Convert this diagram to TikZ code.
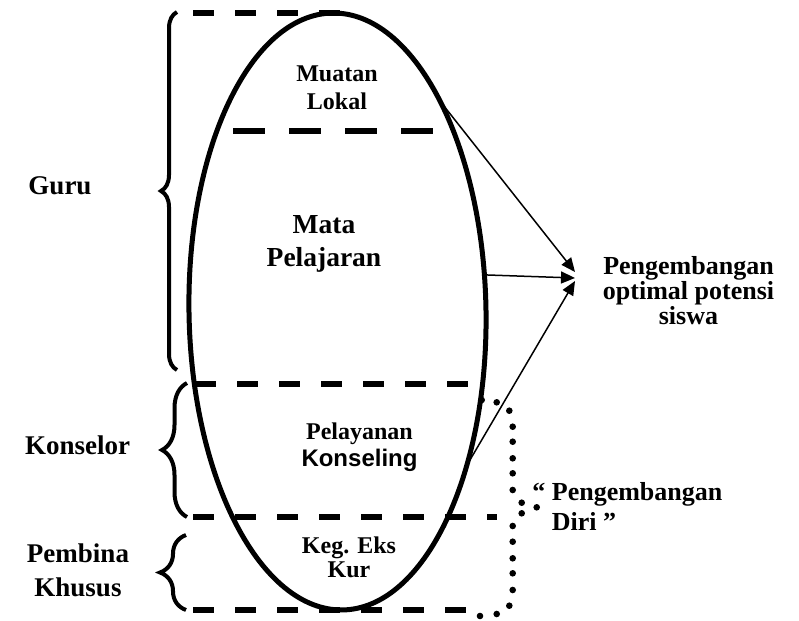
\documentclass[tikz,border=0pt]{standalone}
\usepackage{fontspec}
\setmainfont{Liberation Serif}
\newfontfamily\arialfont{Liberation Sans}
\usetikzlibrary{shapes.geometric,decorations.pathreplacing,arrows.meta}
\begin{document}
\begin{tikzpicture}[x=0.5pt,y=-0.5pt,
  lbl/.style={font={\fontsize{13.5}{17}\selectfont\bfseries}, align=center, inner sep=0pt},
  dashA/.style={line width=3pt, dash pattern=on 10.5pt off 10.5pt},
  dashB/.style={line width=3.3pt, dash pattern=on 16pt off 12pt},
  bracestyle/.style={line width=2pt, decorate, decoration={brace, amplitude=#1}},
  arr/.style={line width=0.75pt, -{Triangle[length=7pt,width=6pt]}},
  dotfill/.style={fill=black}
]
\fill[white] (0,0) rectangle (799,621);
\useasboundingbox (0,0) rectangle (799,621);

% dashed separators
\draw[dashA] (193,13) -- (340,13);
\draw[dashB] (233,131) -- (433,131);
\draw[dashA] (195,384) -- (470,384);
\draw[dashA] (193,517) -- (497,517);
\draw[dashA] (193,610) -- (468,610);

% ellipse
\node[draw, ellipse, line width=2.5pt, minimum width=148.5pt, minimum height=298.5pt,
      inner sep=0pt, outer sep=0pt, rotate=1] (oval) at (337.5,311.5) {};

% braces
\draw[bracestyle=8pt] (177,370) -- (177,12);
\draw[bracestyle=12.5pt] (187,517) -- (187,383);
\draw[bracestyle=13pt] (186,610) -- (186,535);

% dotted bracket
\foreach \p in {(481.7,400),(496.7,402.3),(509.3,410.7),(512.7,426.7),(512.7,441.7),
  (512.7,458.3),(512.7,473.3),(512.7,490),(521.7,502.7),(536.7,507.3),(521.7,513.3),
  (512.7,526),(512.7,541.7),(512.7,558.3),(512.7,573.3),(512.7,590),(509.3,605.7),
  (496.7,614),(480,616)}
  \fill[dotfill] \p circle[radius=1.65pt];

% labels
\node[lbl] (guru) at (60,185.5) {Guru};
\node[lbl] (konselor) at (77.5,445) {Konselor};
\node[lbl] (pembina) at (78,570) {Pembina\\Khusus};
\node[lbl, font={\fontsize{12}{14}\selectfont\bfseries}] (muatan) at (337,87.5) {Muatan\\Lokal};
\node[lbl, font={\fontsize{13.75}{16.5}\selectfont\bfseries}] (mata) at (324,243.5) {Mata\\Pelajaran};
\node[lbl, font={\fontsize{12}{13.5}\selectfont\bfseries}] (pelayanan) at (359.5,447) {Pelayanan\\{\arialfont\bfseries Konseling}};
\node[lbl, font={\fontsize{12}{12}\selectfont\bfseries}] (keg) at (349,557.5) {Keg. Eks\\Kur};
\node[lbl, font={\fontsize{13}{12.5}\selectfont\bfseries}] (goal) at (688.5,290.5) {Pengembangan\\optimal potensi\\siswa};
\node[lbl, font={\fontsize{13}{15}\selectfont\bfseries}, align=left, anchor=west] (diri) at (532,506.5) {“ Pengembangan\\\hphantom{“ }Diri ”};

% arrow targets
\coordinate (t1) at (575,272);
\coordinate (t2) at (575,278);
\coordinate (t3) at (575,281);

\draw[arr] (oval.63.8) -- (t1);
\draw[arr] (oval.13) -- (t2);
\draw[arr] (oval.-51.6) -- (t3);
\end{tikzpicture}
\end{document}
